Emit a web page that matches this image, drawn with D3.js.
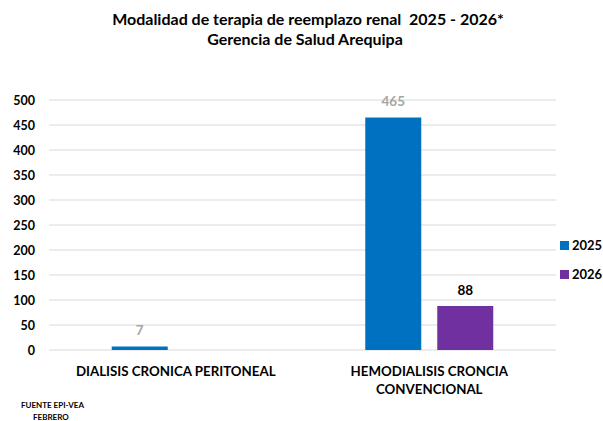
<!DOCTYPE html>
<html>
<head>
<meta charset="utf-8">
<script src="https://cdn.jsdelivr.net/npm/d3@7/dist/d3.min.js"></script>
<style>
  html, body { margin: 0; padding: 0; background: #fff; }
  svg { display: block; font-family: Lato, "Open Sans", sans-serif; font-weight: bold; }
  .title { white-space: pre; }
</style>
</head>
<body>
<svg id="chart" width="603" height="421"></svg>
<script>
// Chart data
const categories = ["DIALISIS CRONICA PERITONEAL", "HEMODIALISIS CRONCIA CONVENCIONAL"];
const categoryLines = [["DIALISIS CRONICA PERITONEAL"], ["HEMODIALISIS CRONCIA", "CONVENCIONAL"]];
const seriesNames = ["2025", "2026"];
const values2025 = [7, 465];
const values2026 = [null, 88];
const yTicks = [0, 50, 100, 150, 200, 250, 300, 350, 400, 450, 500];
const colors = ["#0070C0", "#7030A0"];
const labelColors = ["#a6a6a6", "#000000"];

const svg = d3.select("#chart");
const margin = { left: 49, right: 47, top: 100, bottom: 71 };
const W = 603, H = 421;
const plotW = W - margin.left - margin.right;
const plotH = H - margin.top - margin.bottom;

const g = svg.append("g").attr("transform", `translate(${margin.left},${margin.top})`);

// Category bands and the two bars inside each band
const x0 = d3.scaleBand().domain(categories).range([0, plotW]).paddingInner(0).paddingOuter(0);
const x1 = d3.scaleBand().domain(seriesNames)
  .range([x0.bandwidth() / 2 - 64, x0.bandwidth() / 2 + 64])
  .paddingInner(2 / 9).paddingOuter(0);
const y = d3.scaleLinear().domain([0, 500]).range([plotH, 0]);

// Gridlines
g.append("g").selectAll("line").data(yTicks).join("line")
  .attr("x1", 0).attr("x2", plotW)
  .attr("y1", d => y(d)).attr("y2", d => y(d))
  .attr("stroke", "#d9d9d9").attr("stroke-width", 1);

// Y axis labels
const yAxis = d3.axisLeft(y).tickValues(yTicks).tickSize(0).tickPadding(14);
g.append("g").call(yAxis)
  .call(a => a.select(".domain").remove())
  .call(a => a.selectAll("text").attr("font-size", 12.5).attr("font-family", "Lato, sans-serif").attr("font-weight", "bold").attr("fill", "#000"));

// Bars with value labels
const series = [values2025, values2026];
series.forEach((vals, si) => {
  const data = categories.map((c, i) => ({ c, v: vals[i] })).filter(d => d.v !== null);
  g.append("g").selectAll("rect").data(data).join("rect")
    .attr("x", d => x0(d.c) + x1(seriesNames[si]))
    .attr("y", d => y(d.v))
    .attr("width", x1.bandwidth())
    .attr("height", d => y(0) - y(d.v))
    .attr("fill", colors[si]);
  g.append("g").selectAll("text").data(data).join("text")
    .attr("x", d => x0(d.c) + x1(seriesNames[si]) + x1.bandwidth() / 2)
    .attr("y", d => y(d.v) - 11.5)
    .attr("text-anchor", "middle")
    .attr("font-size", 13.5)
    .attr("fill", labelColors[si])
    .text(d => d.v);
});

// Category labels
categories.forEach((c, i) => {
  const cx = x0(c) + x0.bandwidth() / 2;
  const t = g.append("text")
    .attr("x", cx)
    .attr("y", plotH + 26)
    .attr("text-anchor", "middle")
    .attr("font-size", 13.3);
  categoryLines[i].forEach((line, li) => {
    t.append("tspan").attr("x", cx).attr("dy", li === 0 ? 0 : 18).text(line);
  });
});

// Title
svg.append("text").attr("class", "title").attr("x", 308).attr("y", 24.5).attr("text-anchor", "middle")
  .attr("font-size", 16).text("Modalidad de terapia de reemplazo renal  2025 - 2026*");
svg.append("text").attr("class", "title").attr("x", 305).attr("y", 45).attr("text-anchor", "middle")
  .attr("font-size", 16).text("Gerencia de Salud Arequipa");

// Legend
const legend = svg.append("g").attr("transform", "translate(560,241)");
seriesNames.forEach((s, i) => {
  legend.append("rect").attr("x", 0).attr("y", i * 29).attr("width", 9).attr("height", 9).attr("fill", colors[i]);
  legend.append("text").attr("x", 12).attr("y", i * 29 + 9).attr("font-size", 13).text(s);
});

// Source note
svg.append("text").attr("x", 21).attr("y", 408).attr("font-size", 8).text("FUENTE EPI-VEA");
svg.append("text").attr("x", 33).attr("y", 420).attr("font-size", 8).text("FEBRERO");
</script>
</body>
</html>
